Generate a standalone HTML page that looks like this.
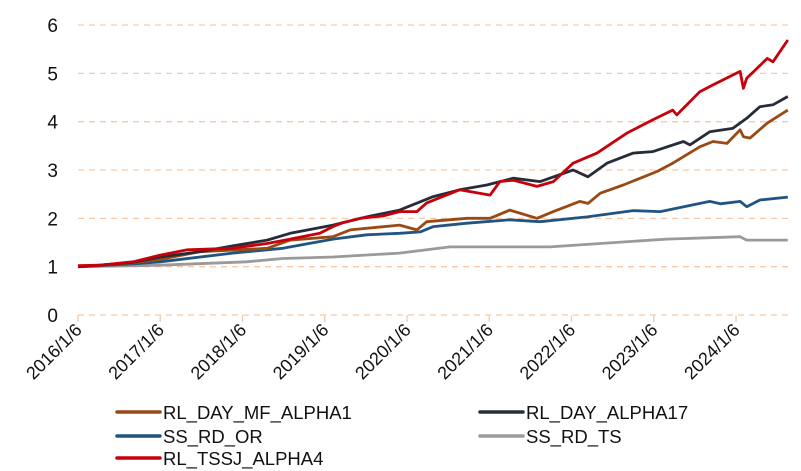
<!DOCTYPE html>
<html><head><meta charset="utf-8"><style>
html,body{margin:0;padding:0;background:#fff;}
svg{display:block;font-family:"Liberation Sans",sans-serif;}
</style></head><body>
<svg id="chart" width="801" height="471" viewBox="0 0 801 471"></svg>
<script>
const yTicks=[0,1,2,3,4,5,6];
const xTickYears=[2016,2017,2018,2019,2020,2021,2022,2023,2024];
const xTickLabels=["2016/1/6","2017/1/6","2018/1/6","2019/1/6","2020/1/6","2021/1/6","2022/1/6","2023/1/6","2024/1/6"];
const seriesNames=["RL_DAY_MF_ALPHA1","RL_DAY_ALPHA17","SS_RD_OR","SS_RD_TS","RL_TSSJ_ALPHA4"];
const seriesColors=["#994a14","#262d38","#225482","#9a9a9a","#c8000a"];
const brownT=[2016.0,2016.27,2016.67,2017.0,2017.48,2018.3,2018.58,2019.1,2019.31,2019.91,2020.12,2020.24,2020.73,2021.01,2021.25,2021.58,2021.78,2022.1,2022.2,2022.35,2022.63,2023.04,2023.23,2023.56,2023.72,2023.89,2024.05,2024.09,2024.17,2024.38,2024.63];
const brownV=[1.0,1.03,1.08,1.15,1.31,1.38,1.55,1.62,1.76,1.86,1.76,1.93,2.0,2.0,2.17,2.0,2.14,2.35,2.31,2.52,2.69,2.97,3.14,3.48,3.59,3.55,3.83,3.69,3.66,3.97,4.24];
const blackT=[2016.0,2016.27,2016.67,2017.0,2017.48,2017.88,2018.3,2018.58,2019.1,2019.51,2019.91,2020.32,2020.64,2020.97,2021.29,2021.62,2022.02,2022.2,2022.43,2022.75,2022.99,2023.36,2023.44,2023.68,2023.96,2024.13,2024.29,2024.45,2024.63];
const blackV=[1.0,1.03,1.09,1.2,1.31,1.43,1.55,1.69,1.86,2.03,2.17,2.45,2.59,2.69,2.83,2.76,3.0,2.86,3.14,3.35,3.38,3.59,3.52,3.79,3.86,4.07,4.31,4.35,4.52];
const blueT=[2016.0,2016.67,2017.0,2017.88,2018.49,2019.1,2019.51,2019.91,2020.16,2020.32,2020.73,2021.25,2021.62,2022.19,2022.75,2023.08,2023.68,2023.81,2024.05,2024.13,2024.29,2024.63];
const blueV=[1.0,1.06,1.1,1.28,1.38,1.57,1.66,1.69,1.72,1.83,1.9,1.97,1.93,2.03,2.16,2.14,2.35,2.3,2.35,2.24,2.38,2.44];
const grayT=[2016.0,2017.0,2018.05,2018.49,2019.1,2019.91,2020.52,2021.74,2022.35,2023.16,2024.05,2024.13,2024.63];
const grayV=[1.0,1.03,1.1,1.17,1.2,1.28,1.41,1.41,1.48,1.57,1.62,1.55,1.55];
const redT=[2016.0,2016.27,2016.67,2017.0,2017.33,2017.88,2018.3,2018.58,2018.94,2019.1,2019.22,2019.43,2019.71,2019.91,2020.12,2020.24,2020.64,2021.01,2021.13,2021.29,2021.58,2021.78,2022.02,2022.31,2022.67,2022.99,2023.23,2023.28,2023.56,2023.72,2024.05,2024.09,2024.13,2024.38,2024.45,2024.63];
const redV=[1.02,1.03,1.1,1.24,1.35,1.38,1.48,1.57,1.69,1.83,1.91,2.0,2.05,2.14,2.14,2.32,2.59,2.48,2.76,2.79,2.66,2.76,3.14,3.35,3.76,4.04,4.24,4.14,4.62,4.76,5.04,4.69,4.9,5.31,5.24,5.69];

const svg=document.getElementById('chart');
const NS='http://www.w3.org/2000/svg';
const X0=78,XPY=82.25,Y0=315,YPU=48.33;
function sx(t){return X0+(t-2016)*XPY;}
function sy(v){return Y0-v*YPU;}
function mk(tag,attrs,parent){const e=document.createElementNS(NS,tag);for(const k in attrs)e.setAttribute(k,attrs[k]);(parent||svg).appendChild(e);return e;}

const grid=mk('g',{});


yTicks.forEach(v=>{
  const l=mk('line',{x1:78,x2:790,y1:sy(v),y2:sy(v),stroke:'#f8c9a8','stroke-width':1.3,'stroke-dasharray':'6,5'},grid);
  
  
  const t=mk('text',{x:58,y:sy(v)+7,'text-anchor':'end','font-size':19,fill:'#111'});
  t.textContent=v;
  
  
});
xTickYears.forEach((yr,i)=>{
  const x=sx(yr);
  const tk=mk('line',{x1:x,x2:x,y1:315,y2:322,stroke:'#f8c9a8','stroke-width':1.3},grid);
  
  
  const t=mk('text',{x:x+5,y:331,'text-anchor':'end','font-size':18,fill:'#111',transform:'rotate(-45 '+(x+5)+' 331)'});
  t.textContent=xTickLabels[i];
  
  
});
const allT=[brownT,blackT,blueT,grayT,redT];
const allV=[brownV,blackV,blueV,grayV,redV];
const order=[3,2,0,1,4];
order.forEach(i=>{
  const d=allT[i].map((t,j)=>(j?'L':'M')+sx(t).toFixed(1)+','+sy(allV[i][j]).toFixed(1)).join(' ');
  const p=mk('path',{d:d,fill:'none',stroke:seriesColors[i],'stroke-width':2.8,'stroke-linejoin':'round'});
  
  
});
const legendPos=[[117,412],[480,412],[117,436],[480,436],[117,458]];
seriesNames.forEach((n,i)=>{
  const g=mk('g',{});
  
  
  const [lx,ly]=legendPos[i];
  mk('line',{x1:lx,x2:lx+43,y1:ly,y2:ly,stroke:seriesColors[i],'stroke-width':3.5,'stroke-linecap':'round'},g);
  const t=mk('text',{x:lx+46,y:ly+7,'font-size':18.5,fill:'#111'},g);
  t.textContent=n;
});
</script>
</body></html>
